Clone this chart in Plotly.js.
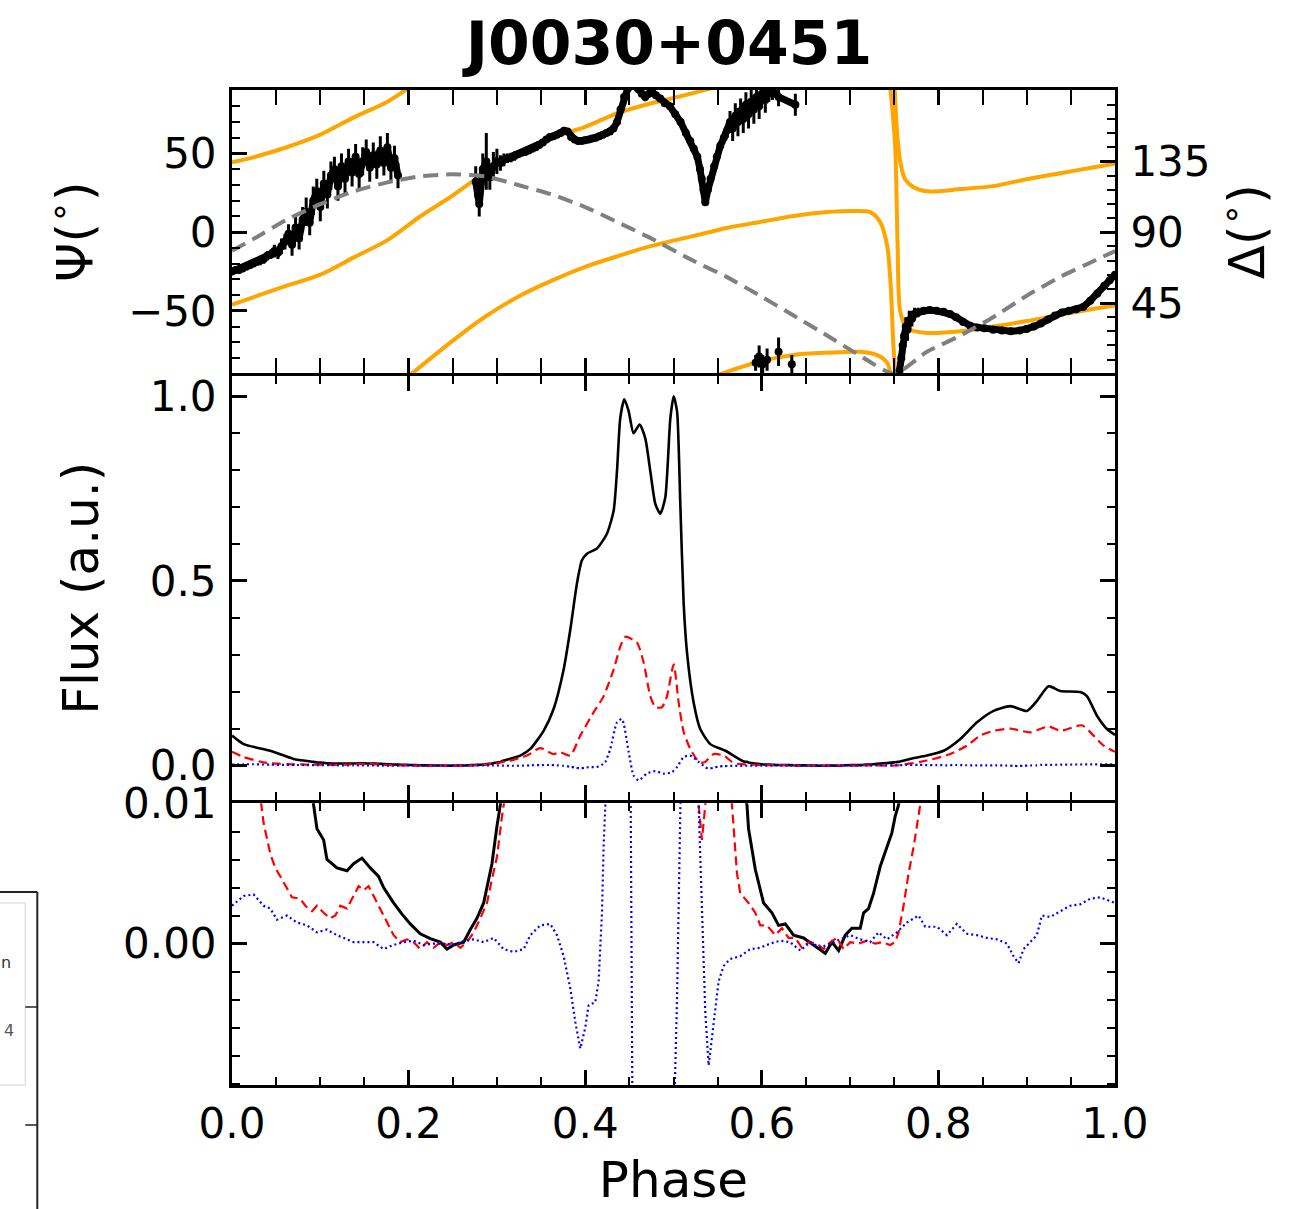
<!DOCTYPE html>
<html><head><meta charset="utf-8">
<script src="https://cdn.plot.ly/plotly-3.0.1.min.js"></script>
<style>body{margin:0;background:#fff}</style>
</head><body><div id="chart" style="width:1297px;height:1209px"></div>
<script>
// ---------- Profile data (phase, normalised flux) ----------
const iPhase = [0.000,0.0132,0.0434,0.0698,0.0924,0.0962,0.1038,0.1075,0.1189,0.1302,0.1377,0.1472,0.1566,0.1660,0.1717,0.1830,0.1925,0.2019,0.2132,0.2246,0.2359,0.2435,0.2510,0.2624,0.2699,0.2774,0.2850,0.2888,0.2944,0.3001,0.3039,0.3076,0.3265,0.3378,0.3529,0.3642,0.3756,0.3831,0.3907,0.3963,0.4020,0.4133,0.4246,0.4322,0.4360,0.4397,0.4443,0.4492,0.4548,0.4616,0.4680,0.4737,0.4794,0.4850,0.4907,0.4964,0.5002,0.5040,0.5077,0.5115,0.5153,0.5228,0.5303,0.5417,0.5587,0.5795,0.5832,0.5850,0.5926,0.6020,0.6115,0.6190,0.6266,0.6360,0.6473,0.6587,0.6662,0.6719,0.6794,0.6870,0.6945,0.7020,0.7115,0.7153,0.7209,0.7266,0.7341,0.7417,0.7473,0.7511,0.7549,0.7700,0.7870,0.8059,0.8248,0.8437,0.8625,0.8814,0.9003,0.9116,0.9248,0.9380,0.9607,0.9682,0.9796,0.9909,1.0000];
const iFlux  = [0.081,0.058,0.040,0.018,0.0099,0.0082,0.0074,0.0060,0.0054,0.0052,0.0057,0.0061,0.0054,0.0048,0.0040,0.0029,0.0021,0.0014,0.0007,0.00035,0.0001,-0.0004,-0.0001,0.0001,0.0010,0.0018,0.0029,0.0041,0.0057,0.0084,0.0099,0.0135,0.027,0.045,0.094,0.153,0.26,0.368,0.494,0.556,0.574,0.588,0.628,0.69,0.798,0.941,0.992,0.96,0.90,0.924,0.887,0.798,0.709,0.682,0.726,0.94,1.0,0.96,0.709,0.44,0.306,0.171,0.099,0.058,0.040,0.011,0.0099,0.0082,0.0053,0.0029,0.0022,0.0013,0.0014,0.0006,0.0004,-0.0001,-0.0004,-0.0007,0.0001,-0.0005,0.0006,0.0011,0.0011,0.0022,0.0025,0.0036,0.0055,0.0069,0.0079,0.0091,0.0099,0.019,0.027,0.040,0.072,0.117,0.148,0.161,0.148,0.175,0.215,0.202,0.199,0.188,0.135,0.099,0.083];

const lPhase = [0.000,0.0132,0.0320,0.0358,0.0434,0.0490,0.0547,0.0623,0.0679,0.0774,0.0830,0.0906,0.0962,0.1038,0.1113,0.1170,0.1226,0.1302,0.1377,0.1434,0.1490,0.1547,0.1604,0.1679,0.1755,0.1830,0.1906,0.1981,0.2057,0.2132,0.2208,0.2284,0.2359,0.2435,0.2510,0.2586,0.2661,0.2737,0.2812,0.2888,0.2944,0.3001,0.3058,0.3076,0.3152,0.3340,0.3491,0.3642,0.3718,0.3831,0.3944,0.4095,0.4209,0.4322,0.4397,0.4454,0.4586,0.4662,0.4737,0.4794,0.4869,0.4926,0.5002,0.5058,0.5115,0.5190,0.5285,0.5322,0.5360,0.5454,0.5568,0.5662,0.5719,0.5756,0.5850,0.5926,0.5983,0.6058,0.6152,0.6228,0.6303,0.6379,0.6454,0.6530,0.6624,0.6700,0.6775,0.6851,0.6926,0.7002,0.7096,0.7190,0.7285,0.7360,0.7454,0.7511,0.7549,0.7605,0.7662,0.7719,0.7794,0.7870,0.8134,0.8323,0.8474,0.8625,0.8814,0.9041,0.9248,0.9380,0.9626,0.9758,0.9871,1.0000];
const lFlux  = [0.037,0.023,0.0105,0.0086,0.0064,0.0054,0.0048,0.0039,0.0033,0.0032,0.0027,0.0023,0.0027,0.0022,0.0018,0.0020,0.0027,0.0025,0.0034,0.0041,0.0038,0.0041,0.0034,0.0025,0.0015,0.0006,0.0001,0.0003,0.0001,-0.0004,0.0001,-0.0003,0.0001,-0.0001,0.0001,-0.0003,0.0001,0.0008,0.0018,0.0029,0.0046,0.0062,0.0091,0.0099,0.013,0.027,0.047,0.031,0.036,0.027,0.081,0.144,0.188,0.26,0.322,0.349,0.333,0.279,0.188,0.158,0.158,0.188,0.274,0.171,0.091,0.045,0.0099,0.0074,0.0099,0.031,0.027,0.0099,0.0050,0.0036,0.0029,0.0022,0.0013,0.0013,0.0006,0.0011,0.0004,0.0004,-0.0003,0.0001,0.0000,-0.0004,0.0001,0.0004,-0.0004,0.0001,0.0000,0.0002,0.0000,0.0001,-0.0001,0.0001,0.0008,0.0027,0.0050,0.0069,0.0099,0.0135,0.031,0.054,0.081,0.094,0.100,0.090,0.106,0.094,0.109,0.081,0.054,0.037];

const vPhase = [0.0000,0.0132,0.0245,0.0358,0.0434,0.0509,0.0623,0.0736,0.0849,0.0962,0.1075,0.1189,0.1302,0.1377,0.1490,0.1604,0.1717,0.1830,0.1943,0.2057,0.2170,0.2284,0.2397,0.2510,0.2624,0.2737,0.2850,0.2963,0.3076,0.3189,0.3303,0.3378,0.3491,0.3604,0.3680,0.3756,0.3831,0.3888,0.3944,0.4001,0.4039,0.4114,0.4152,0.4190,0.4209,0.4228,0.4284,0.4360,0.4416,0.4492,0.4548,0.4605,0.4699,0.4794,0.4888,0.4983,0.5040,0.5115,0.5190,0.5266,0.5285,0.5322,0.5360,0.5398,0.5454,0.5511,0.5568,0.5643,0.5756,0.5869,0.5983,0.6096,0.6209,0.6322,0.6436,0.6549,0.6662,0.6775,0.6889,0.7002,0.7115,0.7228,0.7322,0.7417,0.7530,0.7643,0.7775,0.7851,0.7983,0.8096,0.8209,0.8323,0.8436,0.8549,0.8663,0.8776,0.8851,0.8908,0.8964,0.9040,0.9115,0.9172,0.9266,0.9380,0.9493,0.9606,0.9719,0.9833,0.9946,1.0000];
const vFlux  = [0.0027,0.0034,0.0035,0.0027,0.0025,0.0017,0.0020,0.0015,0.0013,0.0008,0.0010,0.0006,0.0003,0.0001,0.0001,0.0001,-0.0004,-0.0001,0.0001,0.0002,-0.0001,0.0000,0.0000,-0.0001,0.0002,0.0003,0.0001,0.0004,-0.0004,-0.0006,-0.0004,0.0006,0.0013,0.0014,0.0006,-0.0009,-0.0032,-0.0056,-0.0075,-0.0060,-0.0044,-0.0042,-0.0027,0.0022,0.0070,0.0099,0.045,0.117,0.126,0.037,-0.027,-0.040,-0.022,-0.015,-0.022,-0.018,-0.004,0.023,0.027,0.0135,0.0099,0.0034,-0.0049,-0.0087,-0.0056,-0.0027,-0.0016,-0.0011,-0.0009,-0.0004,-0.0003,0.0000,0.0002,0.0001,-0.0005,0.0001,-0.0003,0.0000,0.0003,0.0006,0.0003,0.0001,0.0008,0.0003,0.0008,0.0015,0.0020,0.0012,0.0012,0.0006,0.0014,0.0007,0.0006,0.0004,0.0003,0.0000,-0.0009,-0.0014,-0.0004,0.0001,0.0006,0.0020,0.0019,0.0023,0.0027,0.0028,0.0032,0.0033,0.0030,0.0029];

// ---------- Polarisation position angle (deg) ----------
const paPhase = [0.000,0.004,0.008,0.012,0.016,0.020,0.024,0.028,0.032,0.036,0.040,0.044,0.048,0.052,0.056,0.060,0.064,0.068,0.072,0.076,0.080,0.084,0.088,0.092,0.096,0.100,0.104,0.108,0.112,0.116,0.120,0.124,0.128,0.132,0.136,0.140,0.144,0.148,0.152,0.156,0.160,0.164,0.168,0.172,0.176,0.180,0.184,0.188,
 0.230,
 0.276,0.280,0.284,0.288,0.292,0.296,0.300,0.304,0.308,0.312,0.316,0.320,0.324,0.328,0.332,0.336,0.340,0.344,0.348,0.352,0.356,0.360,0.364,0.368,0.372,0.376,0.380,0.384,0.388,0.392,0.396,0.400,0.404,0.408,0.412,0.416,0.420,0.424,0.428,0.432,0.436,0.440,0.444,0.448,0.452,0.456,0.460,0.464,0.468,0.472,0.476,0.480,0.485,0.490,0.496,0.502,0.508,0.514,0.519,0.523,0.527,0.530,0.532,0.534,0.536,0.539,0.542,0.546,0.549,0.553,0.557,0.561,0.564,0.567,0.570,0.573,0.576,0.579,0.582,0.585,0.588,0.591,0.594,0.597,0.600,0.604,0.608,0.612,0.619,0.638,
 0.590,0.593,0.595,0.597,0.599,0.601,0.603,0.606,0.612,0.619,0.626,0.634,
 0.700,
 0.756,0.758,0.7595,0.761,0.763,0.765,0.767,0.770,0.773,0.777,0.783,0.790,0.798,0.806,0.813,0.820,0.828,0.836,0.844,0.852,0.862,0.872,0.882,0.892,0.900,0.908,0.916,0.924,0.932,0.940,0.948,0.956,0.964,0.972,0.980,0.988,0.994,1.000];
const paAngle = [-25,-24,-24,-23,-22,-21,-20,-19,-18,-17,-15,-14,-12,-13,-9,-6,-1,-8,3,-4,8,13,6,20,26,16,31,24,36,40,29,42,34,45,38,48,37,45,51,41,49,43,52,44,54,41,47,36,
 null,
 32,18,40,45,35,42,45,44,46,47,47.5,48.5,49.5,50.5,51,52,53,54,55.5,57,59,60.5,61,62,63,64.5,64,60.5,59,58,58,58.5,59,59.5,60,61,62,63,64,66,70,78,86,91,93,93,91,88,86,88,89,87,85,82,80,75,70,63,58,53,48,40,34,27,19,27,34,42,48,55,60,65,70,66,74,70,77,72,81,75,83,78,86,80,88,84,89,90,86,81,
 null,-83,null,-79,null,-84,null,-81,null,-76,null,-84,
 null,
 -88,-80,-72,-66,-60,-62,-56,-55,-52,-51,-50,-49.5,-50,-50.5,-52,-54,-57,-59.5,-60.5,-61,-62,-62.5,-63,-62.5,-61.5,-60,-58,-55.5,-53,-51,-50,-49,-47.5,-43.5,-39,-34,-30.5,-27];
const paError = [2,2,2,2,2,2,2,2,3,3,3,3,4,4,5,5,6,7,8,7,8,9,8,9,8,9,8,9,9,8,9,8,9,8,9,8,9,9,8,9,8,9,9,8,9,9,8,8,
 0,
 10,8,10,18,8,9,8,5,4,3,3,3,2,2,2,2,2,2,2,2,2,2,2,2,2,2,2,2,2,2,2,2,2,2,2,2,2,2,2,2,2,2,2,2,2,2,2,2,2,2,2,2,2,2,2,2,2,2,2,2,2,2,2,2,2,2,2,2,2,3,4,5,7,8,8,9,8,9,8,9,8,9,8,8,7,8,6,6,6,7,
 0,5,0,7,0,6,0,7,0,9,0,6,
 0,
 6,8,7,7,6,7,6,5,4,3,2,2,2,2,2,2,2,2,2,2,2,2,2,2,2,2,2,2,2,2,2,2,2,2,2,2,2,2];

// ---------- RVM model curves (wrapped to +-90 deg), null = wrap ----------
const rvmAPhase = [0.000,0.024,0.062,0.100,0.138,0.176,0.201, null, 0.199,0.249,0.287,0.324,0.362,0.400,0.438,0.475,0.523,0.560,0.598,0.636,0.674,0.704,0.723,0.734,0.742,0.746,0.749,0.7515, null, 0.7505,0.753,0.757,0.762,0.772,0.787,0.825,0.862,0.900,0.938,0.976,1.000];
const rvmAPsi   = [44.5,47.6,54,62,73,83,92, null, -92,-69.4,-53.6,-41,-30.8,-22,-15,-8.7,-2.3,2.7,6.5,10.3,12.8,13.5,12.8,6.5,-8.7,-34,-72,-92, null, 92,65,44,34,28.6,26,27.4,29.3,33.7,37.5,41.3,43.5];
const rvmBPhase = [0.000,0.062,0.100,0.138,0.176,0.213,0.249,0.287,0.324,0.362,0.400,0.438,0.475,0.505,0.523,0.546, null, 0.544,0.598,0.636,0.674,0.711,0.730,0.742,0.7465, null, 0.7455,0.751,0.7538,0.7568,0.7644,0.787,0.825,0.862,0.900,0.938,0.976,1.000];
const rvmBPsi   = [-46,-34,-27,-16,-5,10,23,38,50,60,67,76,82,86,88.6,92, null, -92,-82,-78,-76.6,-76,-78,-83,-92, null, 92,55,-8.5,-50.5,-61,-64,-63,-60,-56.5,-52.5,-48.7,-46.5];

// ---------- Delta (deg), right axis ----------
const dPhase = [0.000,0.024,0.062,0.100,0.138,0.176,0.213,0.249,0.287,0.324,0.362,0.400,0.438,0.475,0.523,0.560,0.598,0.636,0.674,0.711,0.750,0.787,0.825,0.862,0.900,0.938,0.976,1.000];
const dDelta = [78.2,85.6,98,107.8,116,121.7,125.5,126.8,125.5,120,114,106,96,86,71.7,61.6,49.6,37,24.3,11.6,0,14,24.3,36,49.6,61.6,71.7,78];

const FONT = 'DejaVu Sans';
const xTicks = [0,0.2,0.4,0.6,0.8,1.0];
const xTickText = ['0.0','0.2','0.4','0.6','0.8','1.0'];

const traces = [
  {x:iPhase, y:iFlux, xaxis:'x', yaxis:'y', mode:'lines', line:{color:'black', width:3}, hoverinfo:'skip'},
  {x:lPhase, y:lFlux, xaxis:'x', yaxis:'y', mode:'lines', line:{color:'red', width:2.2, dash:'9px,5px'}, hoverinfo:'skip'},
  {x:vPhase, y:vFlux, xaxis:'x', yaxis:'y', mode:'lines', line:{color:'blue', width:2.2, dash:'2px,3px'}, hoverinfo:'skip'},
  {x:iPhase, y:iFlux, xaxis:'x2', yaxis:'y2', mode:'lines', line:{color:'black', width:2.6, shape:'spline', smoothing:0.6}, name:'I'},
  {x:lPhase, y:lFlux, xaxis:'x2', yaxis:'y2', mode:'lines', line:{color:'red', width:2.2, dash:'9px,5px', shape:'spline', smoothing:0.6}, name:'L'},
  {x:vPhase, y:vFlux, xaxis:'x2', yaxis:'y2', mode:'lines', line:{color:'blue', width:2.2, dash:'2px,3px', shape:'spline', smoothing:0.6}, name:'V'},
  {x:rvmAPhase, y:rvmAPsi, xaxis:'x3', yaxis:'y3', mode:'lines', line:{color:'#FFA500', width:4, shape:'spline', smoothing:0.8}, connectgaps:false},
  {x:rvmBPhase, y:rvmBPsi, xaxis:'x3', yaxis:'y3', mode:'lines', line:{color:'#FFA500', width:4, shape:'spline', smoothing:0.8}, connectgaps:false},
  {x:paPhase, y:paAngle, xaxis:'x3', yaxis:'y3', mode:'lines+markers', connectgaps:false,
   line:{color:'black', width:7}, marker:{color:'black', size:8},
   error_y:{type:'data', array:paError, visible:true, color:'black', thickness:3, width:0}},
  {x:dPhase, y:dDelta, xaxis:'x3', yaxis:'y4', mode:'lines', line:{color:'#808080', width:4, dash:'15px,8px', shape:'spline', smoothing:0.6}}
];

const tickCommon = {
  showline:true, linecolor:'black', linewidth:3, ticks:'inside', ticklen:15, tickwidth:3, tickcolor:'black',
  showgrid:false, zeroline:false, tickfont:{family:FONT, size:42, color:'black'},
  minor:{ticks:'inside', ticklen:8, tickwidth:2, tickcolor:'black'}
};
function ax(extra){ const o = JSON.parse(JSON.stringify(tickCommon)); return Object.assign(o, extra, {minor:Object.assign(o.minor, extra.minor||{})}); }

// panel boundaries (paper fraction); a 3px gap lets the two frame lines coincide
const bLow = 0.2847, bHigh = 0.7136, gap = 0.0015;
const layout = {
  width:1297, height:1209, paper_bgcolor:'white', plot_bgcolor:'white', showlegend:false,
  margin:{l:232, r:182, t:90, b:124},
  font:{family:FONT, color:'black'},
  title:{text:'J0030+0451', font:{family:FONT, size:60, weight:'bold', color:'black'}, x:0.495, xref:'paper', xanchor:'center', y:1-43/1209, yref:'container', yanchor:'middle'},
  xaxis: ax({anchor:'y', range:[0,1], tickmode:'array', tickvals:xTicks, ticktext:xTickText, mirror:'allticks',
             minor:{tickmode:'linear', tick0:0, dtick:0.05}, ticklabelstandoff:0,
             title:{text:'Phase', font:{family:FONT, size:50, color:'black'}, standoff:18}}),
  xaxis2: ax({anchor:'y2', matches:'x', range:[0,1], tickmode:'array', tickvals:xTicks, showticklabels:false, mirror:'allticks',
             minor:{tickmode:'linear', tick0:0, dtick:0.05}}),
  xaxis3: ax({anchor:'y3', matches:'x', range:[0,1], tickmode:'array', tickvals:xTicks, showticklabels:false, mirror:'allticks',
             minor:{tickmode:'linear', tick0:0, dtick:0.05}}),
  yaxis: ax({domain:[0, bLow-gap], anchor:'x', range:[-0.0101, 0.01002], tickmode:'array', tickvals:[0,0.01], ticktext:['0.00','0.01'],
             mirror:'allticks', minor:{tickmode:'linear', tick0:0, dtick:0.002}, ticklabelstandoff:4}),
  yaxis2: ax({domain:[bLow+gap, bHigh-gap], anchor:'x2', range:[-0.094, 1.054], tickmode:'array', tickvals:[0,0.5,1], ticktext:['0.0','0.5','1.0'],
             mirror:'allticks', minor:{tickmode:'linear', tick0:0, dtick:0.1}, ticklabelstandoff:4,
             title:{text:'Flux (a.u.)', font:{family:FONT, size:50, color:'black'}, standoff:36}}),
  yaxis3: ax({domain:[bHigh+gap, 1], anchor:'x3', range:[-89.8, 90.4], tickmode:'array', tickvals:[-50,0,50], ticktext:['\u221250','0','50'],
             mirror:true, minor:{tickmode:'linear', tick0:0, dtick:10}, ticklabelstandoff:4,
             title:{text:'\u03a8(<sup>\u2218</sup>)', font:{family:FONT, size:50, color:'black'}, standoff:20}}),
  yaxis4: ax({domain:[bHigh+gap, 1], anchor:'x3', overlaying:'y3', side:'right', range:[0.2, 180.4], tickmode:'array', tickvals:[45,90,135], ticktext:['45','90','135'],
             minor:{tickmode:'linear', tick0:0, dtick:9}, ticklabelstandoff:4,
             title:{text:'\u0394(<sup>\u2218</sup>)', font:{family:FONT, size:50, color:'black'}, standoff:17}}),
  shapes:[
    {type:'rect', xref:'paper', yref:'paper', x0:-0.275, x1:-0.2341, y0:0.0, y1:0.183, line:{color:'#e3e3e3', width:1.5}, fillcolor:'white', layer:'above'},
    {type:'line', xref:'paper', yref:'paper', x0:-0.2205, x1:-0.2205, y0:0.194, y1:-0.13, line:{color:'#222', width:2}},
    {type:'line', xref:'paper', yref:'paper', x0:-0.27, x1:-0.2205, y0:0.194, y1:0.194, line:{color:'#222', width:2}},
    {type:'line', xref:'paper', yref:'paper', x0:-0.2341, x1:-0.2205, y0:0.0784, y1:0.0784, line:{color:'#222', width:1.5}},
    {type:'line', xref:'paper', yref:'paper', x0:-0.2341, x1:-0.2205, y0:-0.0402, y1:-0.0402, line:{color:'#222', width:1.5}}
  ],
  annotations:[
    {text:'n', xref:'paper', yref:'paper', x:-0.2555, y:(1085-962)/995, xanchor:'center', yanchor:'middle', showarrow:false, font:{family:FONT, size:16, color:'#333'}},
    {text:'4', xref:'paper', yref:'paper', x:-0.2525, y:(1085-1030)/995, xanchor:'center', yanchor:'middle', showarrow:false, font:{family:FONT, size:16, color:'#555'}}
  ]
};

Plotly.newPlot('chart', traces, layout, {displayModeBar:false, staticPlot:true});
</script></body></html>
